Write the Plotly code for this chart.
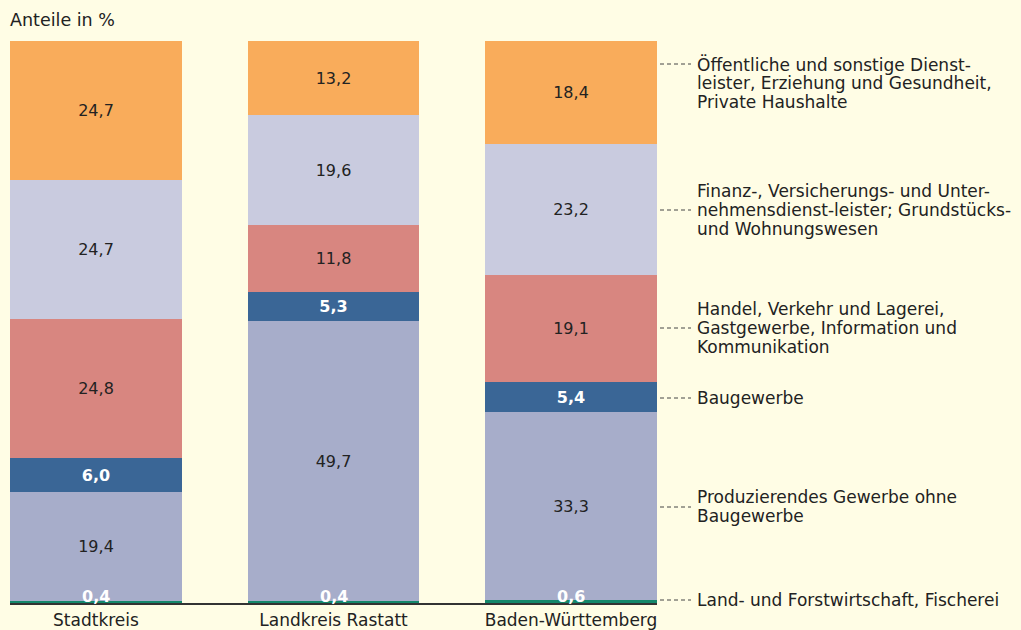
import plotly.graph_objects as go

regions = ["Stadtkreis", "Landkreis Rastatt", "Baden-Württemberg"]
sector_lines = [
    ["Land- und Forstwirtschaft, Fischerei"],
    ["Produzierendes Gewerbe ohne", "Baugewerbe"],
    ["Baugewerbe"],
    ["Handel, Verkehr und Lagerei,", "Gastgewerbe, Information und", "Kommunikation"],
    ["Finanz-, Versicherungs- und Unter-", "nehmensdienst-leister; Grundstücks-", "und Wohnungswesen"],
    ["Öffentliche und sonstige Dienst-", "leister, Erziehung und Gesundheit,", "Private Haushalte"],
]
land = [0.4, 0.4, 0.6]
produzierend = [19.4, 49.7, 33.3]
bau = [6.0, 5.3, 5.4]
handel = [24.8, 11.8, 19.1]
finanz = [24.7, 19.6, 23.2]
oeffentlich = [24.7, 13.2, 18.4]

series = [land, produzierend, bau, handel, finanz, oeffentlich]
colors = ["#14876B", "#A7ADCA", "#3A6696", "#D88680", "#C9CBDF", "#F9AC5B"]
text_colors = ["white", "#222222", "white", "#222222", "#222222", "#222222"]
bold = [True, False, True, False, False, False]

FONT = "DejaVu Sans"
W, H = 1021, 630
ML, MR, MT, MB = 10, 364, 41, 27
PW, PH = W - ML - MR, H - MT - MB

def px_to_paper_x(px):
    return (px - ML) / PW

def px_to_paper_y(py):
    return (H - MB - py) / PH

# leader line y (px) and first text line centre (px)
leader_px = [600, 507, 398, 328, 210, 64]
first_line_px = [600, 497, 398, 309, 191, 64]
line_step = 19

fig = go.Figure()
for i, vals in enumerate(series):
    show_text = i != 0
    fig.add_trace(go.Bar(
        x=regions, y=vals,
        marker=dict(color=colors[i], line=dict(width=0)),
        text=[f"{v:.1f}".replace(".", ",") for v in vals] if show_text else None,
        textposition="inside" if show_text else "none",
        insidetextanchor="middle",
        textangle=0,
        textfont=dict(color=text_colors[i], size=16, family=FONT,
                      weight="bold" if bold[i] else "normal"),
        width=0.724,
        hoverinfo="skip",
    ))

# small values labels at bottom
for r, v in zip(regions, land):
    fig.add_annotation(x=r, y=0, yref="y", text="<b>" + f"{v:.1f}".replace(".", ",") + "</b>",
                       showarrow=False, yanchor="middle", yshift=7,
                       font=dict(color="white", size=16, family=FONT))

# right side labels with dashed leader lines
for i, lines in enumerate(sector_lines):
    yy = px_to_paper_y(leader_px[i])
    fig.add_shape(type="line", xref="paper", yref="paper",
                  x0=px_to_paper_x(660), x1=px_to_paper_x(691), y0=yy, y1=yy,
                  line=dict(color="#444444", width=1, dash="4px,3px"))
    for j, ln in enumerate(lines):
        fig.add_annotation(xref="paper", yref="paper", x=px_to_paper_x(695),
                           y=px_to_paper_y(first_line_px[i] + j * line_step),
                           text=ln, showarrow=False, xanchor="left", yanchor="middle",
                           align="left",
                           font=dict(size=17, color="#222222", family=FONT))

fig.add_annotation(xref="paper", yref="paper", x=px_to_paper_x(8), y=px_to_paper_y(20),
                   text="Anteile in %",
                   showarrow=False, xanchor="left", yanchor="middle",
                   font=dict(size=17.5, color="#222222", family=FONT))

fig.update_layout(
    barmode="stack",
    width=W, height=H,
    margin=dict(l=ML, r=MR, t=MT, b=MB, autoexpand=False),
    paper_bgcolor="#FFFDE5",
    plot_bgcolor="#FFFDE5",
    showlegend=False,
    bargap=0,
    font=dict(family=FONT, color="#222222"),
)
fig.update_xaxes(range=[-0.362, 2.362], showline=True, linecolor="#333333", linewidth=2,
                 ticks="", tickfont=dict(size=17, color="#222222", family=FONT),
                 showgrid=False, ticklabelstandoff=1, automargin=False)
fig.update_yaxes(range=[0, 100], visible=False, showgrid=False, automargin=False)

fig.write_html("out.html", config={"displayModeBar": False},
               post_script="document.body.style.margin='0';document.body.style.background='#FFFDE5';")
